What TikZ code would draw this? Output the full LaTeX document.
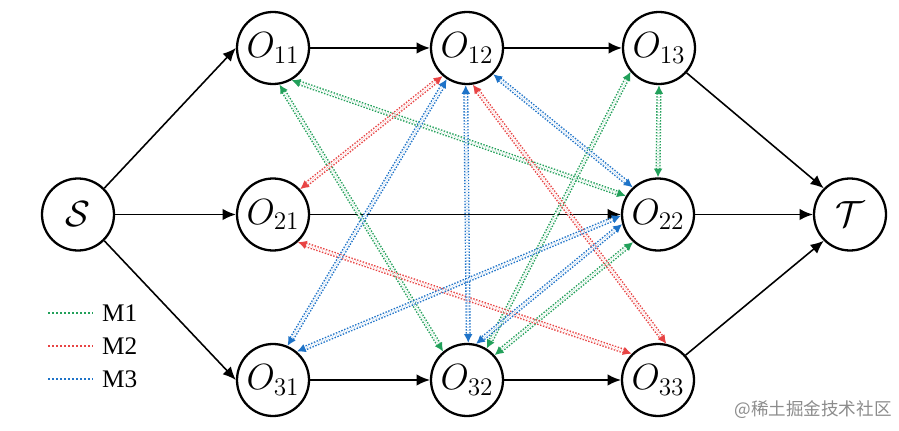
\documentclass[tikz,border=0pt]{standalone}
\usepackage{amsmath, amssymb}
\usepackage{fontspec}
\usetikzlibrary{arrows.meta}
\newfontfamily\cjk{Noto Sans CJK SC}
\newfontfamily\legendfont{Liberation Serif}
\definecolor{linkGreen}{RGB}{34, 160, 90}
\definecolor{linkRed}{RGB}{232, 68, 68}
\definecolor{linkBlue}{RGB}{30, 115, 200}

\begin{document}
\begin{tikzpicture}[
    op/.style={circle, draw, line width=1.3pt, minimum size=1.44cm, inner sep=0pt, font=\huge},
    flow/.style={line width=0.9pt, -{Latex[length=7.5pt,width=6.5pt]}},
    link/.style={double, double distance=1.3pt, line width=0.8pt, dash pattern=on 0.8pt off 0.9pt,
      {Latex[length=5pt,width=5pt]}-{Latex[length=5pt,width=5pt]}},
    legendline/.style={line width=1.1pt, dash pattern=on 1.1pt off 1.2pt}
  ]
  \useasboundingbox (0,0) rectangle (17.98,8.6);

  % operations, three rows
  \node[op] (s) at (1.56,4.31) {$\mathcal{S}$};
  \node[op] (o11) at (5.46,7.64) {$O_{11}$};
  \node[op] (o12) at (9.34,7.64) {$O_{12}$};
  \node[op] (o13) at (13.18,7.64) {$O_{13}$};
  \node[op] (o21) at (5.46,4.31) {$O_{21}$};
  \node[op] (o22) at (13.16,4.31) {$O_{22}$};
  \node[op] (o31) at (5.46,1.0) {$O_{31}$};
  \node[op] (o32) at (9.34,1.0) {$O_{32}$};
  \node[op] (o33) at (13.16,1.0) {$O_{33}$};
  \node[op] (t) at (17.0,4.31) {$\mathcal{T}$};

  % job order
  \draw[flow] (s.45) -- (o11.west);
  \draw[flow] (s) -- (o21);
  \draw[flow] (s.-45) -- (o31.west);
  \draw[flow] (o11) -- (o12);
  \draw[flow] (o12) -- (o13);
  \draw[flow] (o21) -- (o22);
  \draw[flow] (o31) -- (o32);
  \draw[flow] (o32) -- (o33);
  \draw[flow] (o13.-42) -- (t.135);
  \draw[flow] (o22) -- (t);
  \draw[flow] (o33.42) -- (t.-135);

  % M1
  \draw[link, linkGreen] (o11.-60) -- (o22.150);
  \draw[link, linkGreen] (o11.-80) -- (o32.130);
  \draw[link, linkGreen] (o13.-90) -- (o22.90);
  \draw[link, linkGreen] (o13.-140) -- (o32.58);
  \draw[link, linkGreen] (o22.-132) -- (o32.42);
  % M2
  \draw[link, linkRed] (o12.-131) -- (o21.43);
  \draw[link, linkRed] (o12.-81) -- (o33.77);
  \draw[link, linkRed] (o21.-48) -- (o33.135);
  % M3
  \draw[link, linkBlue] (o12.-123) -- (o31.67);
  \draw[link, linkBlue] (o12.-92) -- (o32.88);
  \draw[link, linkBlue] (o12.-45) -- (o22.133);
  \draw[link, linkBlue] (o22.-178) -- (o31.50);
  \draw[link, linkBlue] (o22.-165) -- (o32.76);

  % legend
  \draw[legendline, linkGreen] (0.96,2.34) -- (1.86,2.34);
  \draw[legendline, linkRed] (0.96,1.68) -- (1.86,1.68);
  \draw[legendline, linkBlue] (0.96,1.02) -- (1.86,1.02);
  \node[anchor=west, font=\legendfont\Large] (m1) at (1.92,2.34) {M1};
  \node[anchor=west, font=\legendfont\Large] (m2) at (1.92,1.68) {M2};
  \node[anchor=west, font=\legendfont\Large] (m3) at (1.92,1.02) {M3};

  \node[text=black!45, font=\cjk\fontsize{10}{12}\selectfont] (mark) at (16.26,0.4) {@稀土掘金技术社区};
\end{tikzpicture}
\end{document}
